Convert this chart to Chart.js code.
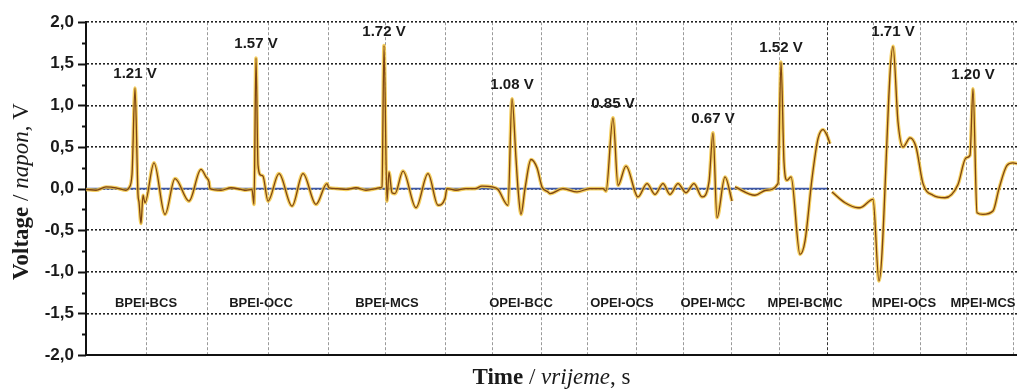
<!DOCTYPE html>
<html>
<head>
<meta charset="utf-8">
<script src="https://cdn.jsdelivr.net/npm/chart.js@4.4.1/dist/chart.umd.min.js"></script>
<style>
  html, body { margin: 0; padding: 0; background: #fff; }
  #wrap { width: 1017px; height: 392px; }
</style>
</head>
<body>
<div id="wrap"><canvas id="chart" width="1017" height="392"></canvas></div>
<script>
// Time runs in arbitrary units (the original has no time tick labels)
const timeValues = [
    0.0, 1.0, 2.0, 3.0, 4.0, 4.3, 4.6, 4.9, 5.2, 5.3, 5.5, 5.7, 5.9, 6.8, 7.9, 8.9, 10.3, 11.5, 12.0, 12.3,
    12.4, 13.5, 14.5, 15.5, 16.0, 16.6, 16.8, 17.0, 17.2, 17.5, 17.7, 18.2, 19.3, 20.6, 21.7, 23.0, 24.1, 24.3,
    25.1, 26.0, 27.0, 28.0, 29.0, 29.4, 29.6, 29.8, 30.1, 30.3, 30.6, 30.9, 31.7, 33.0, 34.2, 35.2, 35.9,
    36.1, 37.0, 38.0, 38.9, 39.6, 40.6, 41.2, 42.2, 42.6, 43.0, 43.2, 43.5, 43.9, 44.5, 45.1, 45.6, 46.2,
    46.4, 47.7, 49.1, 50.4, 51.7, 52.0, 52.7, 53.2, 54.0, 55.2, 56.1, 56.9, 57.7, 58.4, 59.2, 60.0, 60.8,
    61.6, 62.3, 62.7, 63.1, 63.9, 64.6, 64.75,
    64.9, 66.9, 68.0, 69.2, 69.5, 69.8, 70.1, 70.5, 71.4, 71.9, 72.6, 73.2, 73.7, 74.1, 74.4, 74.5,
    74.6, 75.9, 77.2, 77.4, 78.7, 79.3, 80.7, 81.2, 81.7, 82.4, 83.0, 83.7, 84.7, 85.9, 87.2, 88.0, 88.4,
    88.7, 89.1, 89.7, 90.7, 91.3, 92.1, 92.7, 93.1
];
const voltageValues = [
    -0.01, -0.02, 0.02, 0.01, -0.02, 0.01, 0.17, 1.21, -0.07, -0.16, -0.42, -0.08, -0.17, 0.31, -0.31, 0.12, -0.15, 0.23, 0.14, 0.08,
    0.0, -0.02, 0.01, -0.01, -0.02, -0.01, -0.19, 1.57, 0.28, 0.16, 0.15, -0.15, 0.18, -0.21, 0.18, -0.19, 0.06, 0.01,
    0.0, -0.01, 0.01, -0.02, 0.0, 0.01, 0.02, 1.72, -0.15, 0.2, -0.05, -0.06, 0.21, -0.23, 0.18, -0.2, -0.12,
    0.0, -0.02, 0.0, 0.0, 0.03, 0.02, -0.01, -0.2, 1.08, 0.36, 0.0, -0.31, 0.0, 0.35, 0.25, 0.02, -0.04,
    -0.06, 0.0, -0.04, 0.0, 0.0, -0.03, 0.85, 0.04, 0.27, -0.1, 0.06, -0.07, 0.06, -0.07, 0.06, -0.05, 0.06,
    -0.1, 0.08, 0.67, -0.35, 0.14, -0.15, null,
    0.02, -0.08, -0.02, 0.06, 1.52, 0.32, 0.1, 0.14, -0.79, -0.63, 0.12, 0.6, 0.71, 0.64, 0.54, null,
    -0.04, -0.17, -0.23, -0.23, -0.13, -1.11, 1.71, 0.8, 0.5, 0.61, 0.5, 0.06, -0.08, -0.11, 0.05, 0.37, 0.4,
    1.20, -0.29, -0.31, -0.27, 0.0, 0.28, 0.31, 0.3
];

// vertical grid lines of the stitched recordings
const gridTimes = [6.0, 12.1, 18.2, 24.2, 29.9, 35.9, 40.6, 45.5, 50.1, 55.0, 59.7, 64.5, 69.3, 74.1, 78.7, 83.4, 88.0, 92.7];

// labelled peaks
const peakTimes = [4.9, 17.0, 29.8, 42.6, 52.7, 62.7, 69.5, 80.7, 88.7];
const peakVoltages = [1.21, 1.57, 1.72, 1.08, 0.85, 0.67, 1.52, 1.71, 1.20];

// sample names under each recording
const sampleNames = ['BPEI-BCS', 'BPEI-OCC', 'BPEI-MCS', 'OPEI-BCC', 'OPEI-OCS', 'OPEI-MCC', 'MPEI-BCMC', 'MPEI-OCS', 'MPEI-MCS'];
const sampleTimes = [6.0, 17.5, 30.1, 43.5, 53.6, 62.7, 71.9, 81.8, 89.7];

const points = timeValues.map((t, i) => ({ x: t, y: voltageValues[i] }));

function drawParts(ctx, parts, cx, cy) {
    let total = 0;
    parts.forEach(p => { ctx.font = p[1]; total += ctx.measureText(p[0]).width; });
    let x = cx - total / 2;
    parts.forEach(p => {
        ctx.font = p[1];
        ctx.fillText(p[0], x, cy);
        x += ctx.measureText(p[0]).width;
    });
}

const decorations = {
    id: 'decorations',
    beforeDatasetsDraw(chart) {
        const { ctx, chartArea, scales: { x, y } } = chart;
        // blue zero line (left panels only)
        ctx.save();
        ctx.strokeStyle = '#3b56a6';
        ctx.lineWidth = 1.6;
        ctx.beginPath();
        ctx.moveTo(chartArea.left, y.getPixelForValue(0));
        ctx.lineTo(x.getPixelForValue(gridTimes[13]), y.getPixelForValue(0));
        ctx.stroke();
        ctx.restore();
    },
    afterDatasetsDraw(chart) {
        const { ctx, scales: { x, y } } = chart;
        ctx.save();
        ctx.fillStyle = '#1a1a1a';
        ctx.textAlign = 'center';
        ctx.textBaseline = 'middle';

        // peak values
        ctx.font = 'bold 15px "Liberation Sans", Arial, sans-serif';
        peakTimes.forEach((t, i) => {
            ctx.fillText(peakVoltages[i].toFixed(2) + ' V', x.getPixelForValue(t), y.getPixelForValue(peakVoltages[i]) - 14);
        });

        // sample names
        ctx.font = 'bold 13px "Liberation Sans", Arial, sans-serif';
        sampleTimes.forEach((t, i) => {
            ctx.fillText(sampleNames[i], x.getPixelForValue(t), y.getPixelForValue(-1.38));
        });
        ctx.restore();
    },
    afterDraw(chart) {
        const { ctx, chartArea, scales: { y } } = chart;
        ctx.save();
        // tick marks on the voltage axis
        ctx.strokeStyle = '#111';
        ctx.lineWidth = 2;
        for (let v = -2; v <= 2.0001; v += 0.25) {
            const major = Math.abs(v * 2 - Math.round(v * 2)) < 1e-6;
            const py = Math.round(y.getPixelForValue(v)) + 0.5;
            ctx.beginPath();
            ctx.moveTo(chartArea.left - (major ? 8 : 4), py);
            ctx.lineTo(chartArea.left, py);
            ctx.stroke();
        }

        // axis titles
        ctx.fillStyle = '#1a1a1a';
        ctx.textAlign = 'left';
        ctx.textBaseline = 'alphabetic';
        drawParts(ctx, [
            ['Time', 'bold 23px "Liberation Serif", serif'],
            [' / ', '23px "Liberation Serif", serif'],
            ['vrijeme', 'italic 23px "Liberation Serif", serif'],
            [', s', '23px "Liberation Serif", serif']
        ], (chartArea.left + chartArea.right) / 2, 384);

        ctx.translate(28, (chartArea.top + chartArea.bottom) / 2 + 3);
        ctx.rotate(-Math.PI / 2);
        drawParts(ctx, [
            ['Voltage', 'bold 23px "Liberation Serif", serif'],
            [' / ', '23px "Liberation Serif", serif'],
            ['napon', 'italic 23px "Liberation Serif", serif'],
            [', V', '23px "Liberation Serif", serif']
        ], 0, 0);
        ctx.restore();
    }
};

new Chart(document.getElementById('chart'), {
    type: 'line',
    data: {
        datasets: [
            {
                data: points,
                borderColor: '#7e4512',
                borderWidth: 1.3,
                pointRadius: 0,
                cubicInterpolationMode: 'monotone',
                spanGaps: false
            },
            {
                data: points,
                borderColor: 'rgba(242, 196, 60, 0.8)',
                borderWidth: 3.6,
                pointRadius: 0,
                cubicInterpolationMode: 'monotone',
                spanGaps: false
            }
        ]
    },
    options: {
        responsive: false,
        animation: false,
        layout: { padding: { top: 19, right: 0, left: 0, bottom: 0 } },
        plugins: {
            legend: { display: false },
            tooltip: { enabled: false }
        },
        scales: {
            x: {
                type: 'linear',
                min: 0,
                max: 93.1,
                afterBuildTicks: scale => { scale.ticks = gridTimes.map(v => ({ value: v })); },
                afterFit: scale => { scale.height = 37; },
                ticks: { display: false },
                grid: {
                    drawTicks: false,
                    lineWidth: 1,
                    color: ctx => (ctx.tick && ctx.tick.value === gridTimes[13]) ? '#333' : '#9a9a9a'
                },
                border: { display: true, color: '#111', width: 2, dash: [3, 2] }
            },
            y: {
                min: -2,
                max: 2,
                afterFit: scale => { scale.width = 86; },
                ticks: {
                    stepSize: 0.5,
                    padding: 12,
                    color: '#1a1a1a',
                    font: { family: '"Liberation Sans", Arial, sans-serif', size: 17, weight: 'bold' },
                    callback: v => v.toFixed(1).replace('.', ',')
                },
                grid: {
                    drawTicks: false,
                    lineWidth: 1.6,
                    color: '#222'
                },
                border: { display: true, color: '#111', width: 2, dash: [2, 2] }
            }
        }
    },
    plugins: [decorations]
});
</script>
</body>
</html>
